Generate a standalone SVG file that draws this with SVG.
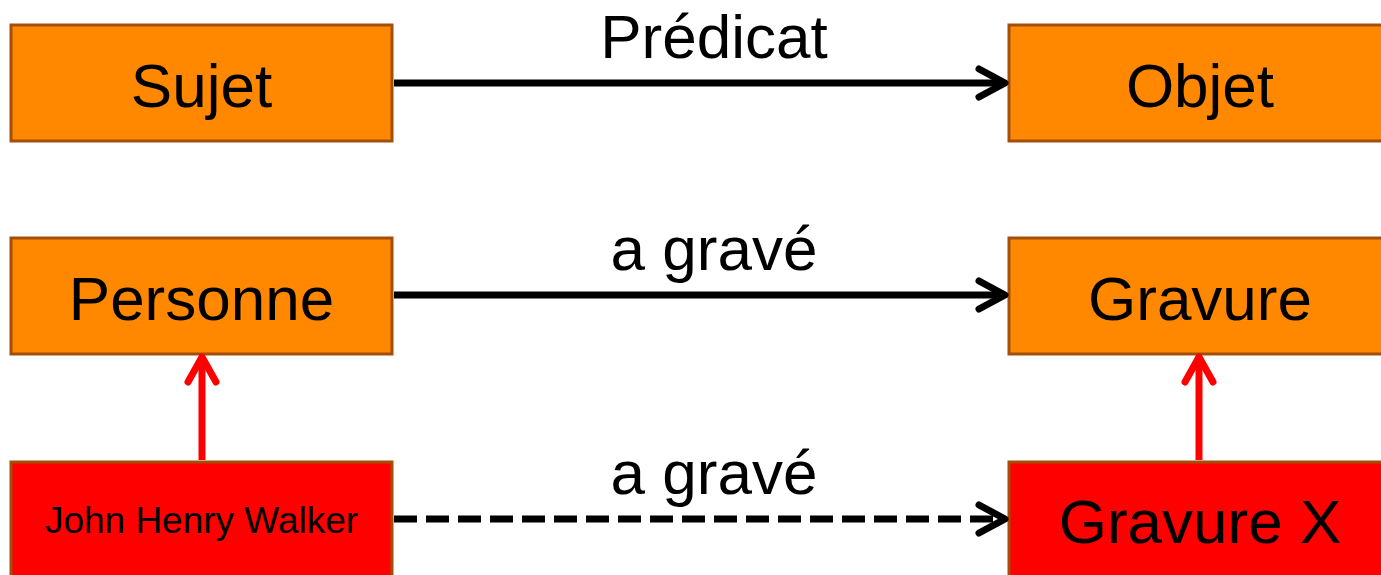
<svg xmlns="http://www.w3.org/2000/svg" width="1381" height="575" viewBox="0 0 1381 575">
  <defs>
    <style>
      .box { stroke: #A34E0A; stroke-width: 3; }
      .orange { fill: #FF8800; }
      .red { fill: #FF0000; }
      .t { font-family: "Liberation Sans", Arial, sans-serif; fill: #000; text-anchor: middle; }
      .big { font-size: 62px; }
      .small { font-size: 37px; }
      .edge { fill: none; stroke-width: 7; stroke-linecap: round; stroke-linejoin: round; }
      .shaft { stroke-linecap: butt; }
      .blk { stroke: #000; }
      .rd { stroke: #FF0000; }
    </style>
  </defs>

  <!-- nodes -->
  <g id="sujet">
    <rect class="box orange" x="11" y="25" width="381" height="116"/>
    <text class="t big" x="201.5" y="107">Sujet</text>
  </g>
  <g id="objet">
    <rect class="box orange" x="1009" y="25" width="390" height="116"/>
    <text class="t big" x="1200" y="107">Objet</text>
  </g>
  <g id="personne">
    <rect class="box orange" x="11" y="238" width="381" height="116"/>
    <text class="t big" x="201.5" y="320">Personne</text>
  </g>
  <g id="gravure">
    <rect class="box orange" x="1009" y="238" width="390" height="116"/>
    <text class="t big" x="1200" y="320">Gravure</text>
  </g>
  <g id="john-henry-walker">
    <rect class="box red" x="11" y="462" width="381" height="130"/>
    <text class="t small" x="201.5" y="533">John Henry Walker</text>
  </g>
  <g id="gravure-x">
    <rect class="box red" x="1009" y="462" width="390" height="130"/>
    <text class="t big" x="1200" y="543">Gravure X</text>
  </g>

  <!-- connectors -->
  <g id="connectors">
    <line class="edge shaft blk" x1="394" y1="83" x2="1003" y2="83"/>
    <polyline class="edge blk" points="979,69 1005,83 979,97"/>
    <text class="t big" x="714" y="58">Prédicat</text>

    <line class="edge shaft blk" x1="394" y1="295" x2="1003" y2="295"/>
    <polyline class="edge blk" points="979,281 1005,295 979,309"/>
    <text class="t big" x="714" y="270">a gravé</text>

    <line class="edge shaft blk" x1="394" y1="519" x2="1003" y2="519" stroke-dasharray="23 9"/>
    <polyline class="edge blk" points="979,505 1005,519 979,533"/>
    <text class="t big" x="714" y="494">a gravé</text>

    <line class="edge shaft rd" x1="202" y1="460" x2="202" y2="358"/>
    <polyline class="edge rd" points="188,382 202,357 216,382"/>

    <line class="edge shaft rd" x1="1199" y1="460" x2="1199" y2="358"/>
    <polyline class="edge rd" points="1185,382 1199,357 1213,382"/>
  </g>
</svg>
